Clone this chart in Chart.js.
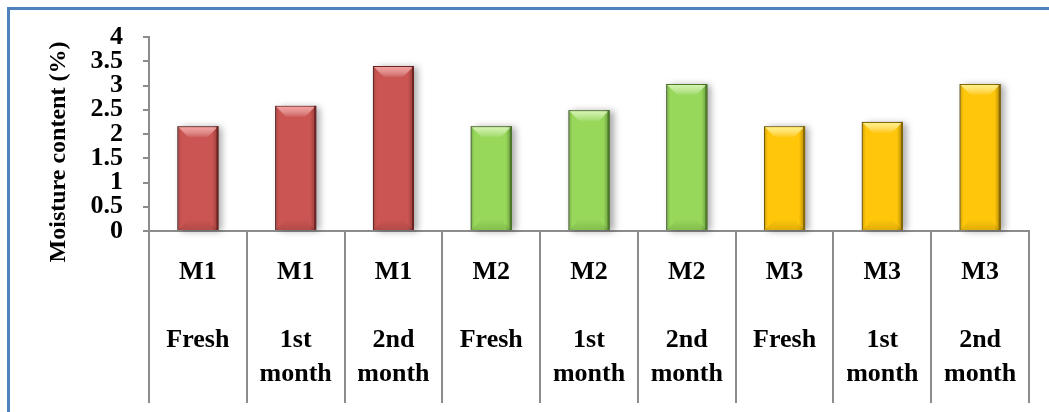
<!DOCTYPE html>
<html>
<head>
<meta charset="utf-8">
<script src="https://cdn.jsdelivr.net/npm/chart.js@4/dist/chart.umd.min.js"></script>
<style>
  html, body { margin: 0; padding: 0; background: #fff; }
  #wrap { position: relative; width: 1049px; height: 412px; overflow: hidden; }
  #frame { position: absolute; left: 7px; top: 7px; width: 1100px; height: 500px;
           border-top: 3px solid #4F81BD; border-left: 3px solid #4F81BD; box-sizing: border-box; }
  canvas { position: absolute; left: 0; top: 0; }
</style>
</head>
<body>
<div id="wrap">
  <div id="frame"></div>
  <canvas id="c" width="1049" height="412"></canvas>
</div>
<script>
// ---- data ----
const samples = ['M1', 'M1', 'M1', 'M2', 'M2', 'M2', 'M3', 'M3', 'M3'];
const periods = [['Fresh'], ['1st', 'month'], ['2nd', 'month'],
                 ['Fresh'], ['1st', 'month'], ['2nd', 'month'],
                 ['Fresh'], ['1st', 'month'], ['2nd', 'month']];
const moisture = [2.16, 2.58, 3.40, 2.16, 2.49, 3.03, 2.16, 2.25, 3.03];
const yTickLabels = ['0', '0.5', '1', '1.5', '2', '2.5', '3', '3.5', '4'];
const yTitle = 'Moisture content (%)';

// ---- styles ----
const sampleColors = { M1: '#CB5552', M2: '#97D85A', M3: '#FFC60A' };
const sampleEdges  = { M1: '#6E2422', M2: '#4C7A26', M3: '#8A6A00' };
const sampleLight  = { M1: 'rgba(255,170,168,0.85)', M2: 'rgba(225,250,190,0.85)', M3: 'rgba(255,250,150,0.9)' };

const labels = samples.map((s, i) => [s, ''].concat(periods[i]));

const bevelPlugin = {
  id: 'bevel',
  beforeDatasetsDraw(chart) {
    const ctx = chart.ctx;
    const meta = chart.getDatasetMeta(0);
    ctx.save();
    meta.data.forEach((bar) => {
      const x0 = bar.x - bar.width / 2, w = bar.width, y0 = bar.y, h = bar.base - bar.y;
      ctx.shadowColor = 'rgba(0,0,0,0.35)';
      ctx.shadowBlur = 7;
      ctx.shadowOffsetX = 4;
      ctx.shadowOffsetY = 1;
      ctx.fillStyle = '#888';
      ctx.fillRect(x0, y0, w, h);
    });
    ctx.restore();
  },
  afterDatasetsDraw(chart) {
    const ctx = chart.ctx;
    const meta = chart.getDatasetMeta(0);
    ctx.save();
    meta.data.forEach((bar, i) => {
      const s = samples[i];
      const x0 = bar.x - bar.width / 2, x1 = bar.x + bar.width / 2, y0 = bar.y, y1 = bar.base, w = bar.width;
      const b = 11;
      const g = ctx.createLinearGradient(x0, 0, x1, 0);
      g.addColorStop(0, 'rgba(0,0,0,0.18)');
      g.addColorStop(0.1, 'rgba(0,0,0,0.0)');
      g.addColorStop(0.85, 'rgba(0,0,0,0.0)');
      g.addColorStop(1, 'rgba(0,0,0,0.30)');
      ctx.fillStyle = g;
      ctx.fillRect(x0, y0, w, y1 - y0);
      const tg = ctx.createLinearGradient(0, y0, 0, y0 + b);
      tg.addColorStop(0, sampleLight[s]);
      tg.addColorStop(1, 'rgba(255,255,255,0.05)');
      ctx.fillStyle = tg;
      ctx.beginPath();
      ctx.moveTo(x0 + 1, y0 + 1);
      ctx.lineTo(x1 - 1, y0 + 1);
      ctx.lineTo(x1 - b, y0 + b);
      ctx.lineTo(x0 + b, y0 + b);
      ctx.closePath();
      ctx.fill();
      const bg = ctx.createLinearGradient(0, y1 - b, 0, y1);
      bg.addColorStop(0, 'rgba(0,0,0,0.0)');
      bg.addColorStop(1, 'rgba(0,0,0,0.12)');
      ctx.fillStyle = bg;
      ctx.beginPath();
      ctx.moveTo(x0 + b, y1 - b);
      ctx.lineTo(x1 - b, y1 - b);
      ctx.lineTo(x1 - 1, y1);
      ctx.lineTo(x0 + 1, y1);
      ctx.closePath();
      ctx.fill();
      ctx.fillStyle = sampleEdges[s];
      ctx.fillRect(x1 - 2, y0, 2, y1 - y0);
    });
    ctx.restore();
  },
  afterDraw(chart) {
    const ctx = chart.ctx;
    const a = chart.chartArea;
    ctx.save();
    ctx.translate(a.left - 90, (a.top + a.bottom) / 2 + 18);
    ctx.rotate(-Math.PI / 2);
    ctx.font = 'bold 24px "Liberation Serif"';
    ctx.fillStyle = '#000';
    ctx.textAlign = 'center';
    ctx.textBaseline = 'middle';
    ctx.fillText(yTitle, 0, 0);
    ctx.restore();
  }
};

new Chart(document.getElementById('c'), {
  type: 'bar',
  data: {
    labels: labels,
    datasets: [{
      data: moisture,
      backgroundColor: samples.map(s => sampleColors[s]),
      borderColor: samples.map(s => sampleEdges[s]),
      borderWidth: 1,
      barPercentage: 0.42,
      categoryPercentage: 1.0
    }]
  },
  options: {
    responsive: false,
    animation: false,
    events: [],
    layout: { padding: { left: 10, right: 20, top: 37, bottom: 0 } },
    plugins: { legend: { display: false }, tooltip: { enabled: false }, title: { display: false } },
    scales: {
      x: {
        offset: true,
        afterFit(scale) { scale.height = 181; },
        grid: { display: true, offset: true, drawOnChartArea: false, drawTicks: true,
                tickLength: 172, color: '#8C8C8C', lineWidth: 2 },
        border: { display: true, color: '#8C8C8C', width: 2 },
        ticks: {
          color: '#000',
          font: { family: 'Liberation Serif', weight: 'bold', size: 26, lineHeight: '34px' },
          padding: -148,
          maxRotation: 0, minRotation: 0, autoSkip: false
        }
      },
      y: {
        min: 0, max: 4,
        afterFit(scale) { scale.width = 139; },
        grid: { display: true, drawOnChartArea: false, drawTicks: true, tickLength: 6,
                color: '#8C8C8C', lineWidth: 2 },
        border: { display: true, color: '#8C8C8C', width: 2 },
        ticks: {
          stepSize: 0.5,
          autoSkip: false,
          color: '#000',
          padding: 20,
          font: { family: 'Liberation Serif', weight: 'bold', size: 26, lineHeight: 1 },
          callback: (v, i) => yTickLabels[i]
        }
      }
    }
  },
  plugins: [bevelPlugin]
});
</script>
</body>
</html>
